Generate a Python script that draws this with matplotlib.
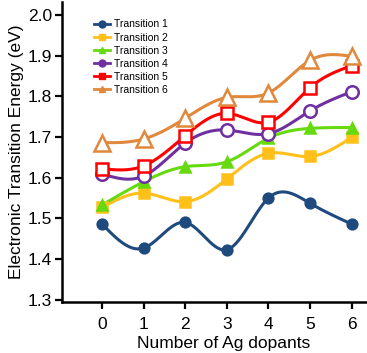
import numpy as np
import matplotlib
matplotlib.use('Agg')
import matplotlib.pyplot as plt

plt.rcParams['font.family'] = ['Liberation Sans', 'DejaVu Sans']

dopants = [0, 1, 2, 3, 4, 5, 6]
t1 = [1.486, 1.427, 1.490, 1.423, 1.550, 1.537, 1.486]
t2 = [1.527, 1.562, 1.541, 1.597, 1.660, 1.652, 1.699]
t3 = [1.533, 1.590, 1.627, 1.639, 1.697, 1.721, 1.723]
t4 = [1.609, 1.604, 1.685, 1.717, 1.708, 1.764, 1.811]
t5 = [1.622, 1.629, 1.703, 1.758, 1.736, 1.821, 1.875]
t6 = [1.686, 1.695, 1.746, 1.797, 1.808, 1.888, 1.898]
labels = ['Transition 1', 'Transition 2', 'Transition 3',
          'Transition 4', 'Transition 5', 'Transition 6']
yticks = [1.3, 1.4, 1.5, 1.6, 1.7, 1.8, 1.9, 2.0]


def spline(x, y, n=200):
    # natural cubic spline, only used to draw the smooth line
    x = np.asarray(x, float)
    y = np.asarray(y, float)
    k = len(x)
    h = np.diff(x)
    A = np.zeros((k, k))
    b = np.zeros(k)
    A[0, 0] = 1
    A[-1, -1] = 1
    for i in range(1, k - 1):
        A[i, i - 1] = h[i - 1]
        A[i, i] = 2 * (h[i - 1] + h[i])
        A[i, i + 1] = h[i]
        b[i] = 6 * ((y[i + 1] - y[i]) / h[i] - (y[i] - y[i - 1]) / h[i - 1])
    m = np.linalg.solve(A, b)
    xs = np.linspace(x[0], x[-1], n)
    ys = np.empty_like(xs)
    for j, xv in enumerate(xs):
        i = min(np.searchsorted(x, xv, side='right') - 1, k - 2)
        t = xv - x[i]
        hi = h[i]
        a = (m[i + 1] - m[i]) / (6 * hi)
        bb = m[i] / 2
        c = (y[i + 1] - y[i]) / hi - hi * (2 * m[i] + m[i + 1]) / 6
        ys[j] = y[i] + c * t + bb * t ** 2 + a * t ** 3
    return xs, ys


series = [t1, t2, t3, t4, t5, t6]
colors = ['#1f4a7e', '#ffc01a', '#66d90f', '#7030a0', '#ff0000', '#e0883c']
markers = ['o', 's', '^', 'o', 's', '^']
filled = [True, True, True, False, False, False]
msizes = [7, 7, 7, 9, 9, 11]

fig = plt.figure(figsize=(3.67, 3.53), dpi=100)
ax = fig.add_axes([0.169, 0.145, 0.83, 0.85])

for ys, c, mk, f, ms, lab in zip(series, colors, markers, filled, msizes, labels):
    xs_s, ys_s = spline(dopants, ys)
    ax.plot(xs_s, ys_s, color=c, lw=2.2, zorder=2)
    ax.plot(dopants, ys, ls='none', marker=mk, ms=ms, color=c,
            mfc=c if f else 'white', mec=c, mew=1.8, zorder=3)
    ax.plot([], [], color=c, lw=2, marker=mk, ms=5, mfc=c, mec=c, label=lab)

ax.set_xlim(-0.964, 6.36)
ax.set_ylim(1.295, 2.032)
ax.set_xticks(dopants)
ax.set_yticks(yticks)
ax.set_yticklabels(['%.1f' % v for v in yticks])
ax.tick_params(labelsize=12.5, width=1.6, length=5, direction='out', pad=2)
ax.tick_params(axis='x', pad=6)
ax.spines['top'].set_visible(False)
ax.spines['right'].set_visible(False)
ax.spines['left'].set_linewidth(1.8)
ax.spines['bottom'].set_linewidth(1.8)
ax.set_xlabel('Number of Ag dopants', fontsize=12.5, labelpad=3, x=0.53)
ax.set_ylabel('Electronic Transition Energy (eV)', fontsize=12.5, labelpad=3)

ax.legend(loc='upper left', bbox_to_anchor=(0.09, 0.955), frameon=False,
          fontsize=7.5, handlelength=1.6, handletextpad=0.4,
          labelspacing=0.3, borderaxespad=0)

fig.savefig('out.png', dpi=100)
